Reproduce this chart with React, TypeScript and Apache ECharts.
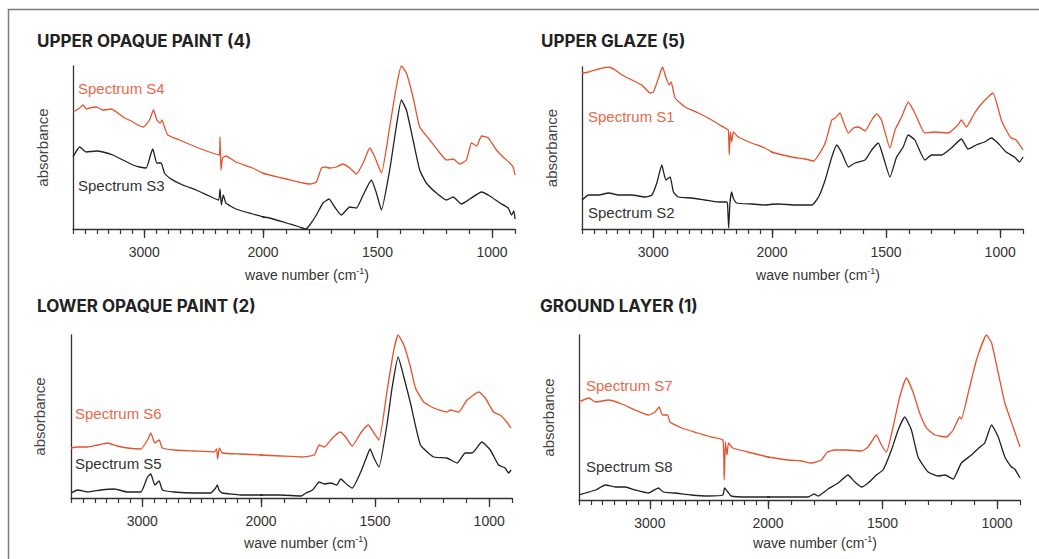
import React, { useEffect, useRef } from "react";
import * as echarts from "echarts";

// ---- Data (wave number in cm-1, absorbance in arbitrary display units) ----
const S4_WN = [3600,3544,3516,3488,3460,3404,3348,3278,3222,3166,3110,3054,3006,2956,2922,2894,2866,2850,2830,2802,2704,2564,2452,2368,2362,2354,2340,2312,2228,2088,1971,1898,1825,1796,1767,1745,1731,1709,1680,1651,1621,1592,1563,1534,1512,1483,1447,1418,1396,1374,1345,1316,1272,1228,1199,1170,1141,1112,1090,1068,1046,1017,981,952,923,908,900];
const S4_ABS = [117,121,124,120,121,122,119,120,116,111,108,104,102,109,119,109,106,109,102,94,89,82,77,74,92,59,71,73,67,61,54,50,46,45,47,61,62,61,62,65,61,55,66,81,72,56,102,142,163,156,132,102,89,76,69,70,65,69,86,83,93,91,79,72,66,62,54];

const S3_WN = [3600,3544,3488,3404,3348,3264,3180,3096,3040,2984,2942,2928,2894,2858,2830,2788,2676,2564,2452,2374,2362,2351,2334,2312,2228,2088,1971,1898,1840,1814,1796,1767,1738,1712,1687,1658,1621,1592,1563,1527,1505,1483,1447,1425,1396,1374,1345,1316,1287,1243,1199,1170,1134,1097,1046,1010,966,930,915,905,900];
const S3_ABS = [72,82,77,78,77,74,69,64,62,61,76,80,66,66,56,51,44,39,33,29,40,24,34,26,20,15,11,6,2,0,4,14,26,30,22,14,22,21,34,49,36,19,59,92,129,119,89,59,46,36,29,32,25,30,37,33,26,21,14,18,10];

const S1_WN = [3600,3544,3460,3376,3320,3264,3180,3096,3026,2998,2956,2922,2894,2866,2850,2816,2732,2620,2508,2396,2368,2360,2351,2340,2326,2284,2172,2060,1971,1913,1854,1818,1796,1767,1738,1723,1702,1687,1665,1643,1621,1592,1563,1541,1520,1483,1461,1432,1403,1374,1330,1287,1228,1185,1170,1148,1112,1075,1032,995,974,952,930,900];
const S1_ABS = [156,157,160,162,159,154,149,144,136,137,151,162,152,144,147,131,122,116,109,101,99,74,97,87,97,92,86,81,75,72,70,68,74,86,109,111,116,107,96,101,102,98,109,115,109,81,99,112,127,116,96,97,96,104,109,102,116,127,136,109,99,91,89,79];

const S2_WN = [3600,3544,3460,3376,3292,3180,3068,3012,2970,2928,2894,2858,2830,2788,2676,2564,2452,2382,2374,2365,2354,2340,2326,2298,2172,2060,1971,1898,1825,1796,1767,1738,1716,1694,1665,1636,1592,1563,1534,1512,1483,1454,1425,1403,1374,1330,1301,1257,1214,1170,1141,1105,1068,1039,1010,974,937,915,900];
const S2_ABS = [29,34,34,36,34,34,32,34,46,64,49,52,37,32,31,29,27,27,24,1,26,37,31,26,25,24,25,24,24,32,49,72,84,76,62,66,69,79,86,72,52,72,82,94,89,69,74,74,81,90,80,84,87,91,86,77,72,67,72];

const S6_WN = [3600,3544,3460,3376,3292,3208,3124,3012,2956,2928,2894,2858,2830,2732,2564,2396,2374,2365,2351,2326,2172,2000,1913,1825,1767,1745,1723,1687,1653,1629,1600,1563,1530,1505,1483,1447,1418,1399,1374,1345,1323,1287,1243,1185,1170,1134,1097,1046,1017,981,952,923,905];
const S6_ABS = [50,51,51,53,55,52,50,49,58,65,55,58,50,48,47,46,49,39,50,45,44,43,42,41,43,53,51,60,66,61,52,65,73,65,58,108,148,163,153,131,110,96,90,86,88,86,98,106,100,86,83,76,70];

const S5_WN = [3600,3544,3460,3348,3236,3124,3012,2956,2928,2894,2858,2830,2732,2564,2424,2382,2368,2354,2326,2172,2000,1913,1825,1803,1774,1745,1723,1694,1668,1651,1621,1600,1563,1537,1522,1505,1483,1447,1425,1399,1374,1345,1301,1243,1185,1141,1105,1075,1032,995,959,930,915,904];
const S5_ABS = [5,8,6,8,9,6,6,21,24,13,17,8,6,5,5,10,13,8,5,3,3,3,2,5,8,16,14,15,13,19,13,10,26,41,49,40,31,75,111,141,121,95,53,41,40,35,45,45,56,48,33,30,25,28];

const S7_WN = [3600,3516,3460,3348,3236,3124,3012,2956,2922,2894,2850,2830,2732,2592,2480,2382,2371,2360,2348,2334,2298,2172,2000,1913,1854,1811,1767,1741,1709,1651,1592,1563,1527,1505,1483,1454,1425,1396,1367,1338,1308,1272,1221,1192,1163,1156,1126,1090,1046,1024,995,966,930,900];
const S7_ABS = [98,102,98,100,96,90,85,88,93,85,85,78,72,67,63,60,20,58,45,57,52,48,43,40,39,37,40,48,50,50,49,53,65,55,48,73,103,122,108,87,72,65,63,70,83,81,107,140,165,157,127,97,73,53];

const S8_WN = [3600,3544,3460,3376,3292,3208,3124,3012,2928,2886,2788,2648,2508,2382,2368,2340,2312,2172,2000,1913,1825,1799,1782,1738,1694,1651,1621,1592,1563,1527,1498,1461,1432,1403,1374,1345,1301,1257,1228,1192,1156,1112,1075,1054,1024,995,966,937,923,900];
const S8_ABS = [5,7,10,15,13,13,10,7,12,8,7,5,4,5,12,8,4,3,3,3,3,6,4,11,17,25,18,13,17,25,30,50,70,83,70,43,28,24,25,21,37,45,53,57,75,63,43,33,31,22];

const TITLES = ["UPPER OPAQUE PAINT (4)", "UPPER GLAZE (5)", "LOWER OPAQUE PAINT (2)", "GROUND LAYER (1)"];
const SPECTRUM_NAMES = ["Spectrum S4", "Spectrum S3", "Spectrum S1", "Spectrum S2", "Spectrum S6", "Spectrum S5", "Spectrum S7", "Spectrum S8"];
const HIGH_RANGE = [2000, 3600];
const LOW_RANGE = [900, 2000];
const MAJOR_HIGH = [3000];
const MAJOR_LOW = [2000, 1500, 1000];
const Y_NAME = "absorbance";

// ---- Layout / style ----
const ORANGE = "#E4532D";
const ORANGE_TEXT = "#E8694A";
const BLACK = "#222222";
const AXIS = "#333333";
const LABEL_FONT = "'Liberation Sans', Arial, sans-serif";
const TITLE_FONT = "Inter, 'Open Sans', sans-serif";

const PANELS = [
  { left: 73, top: 66, hw: 190, lw: 252, h: 163, tx: 37, ty: 41, ax: 42, nx: 307, ny: 275,
    red: { wn: S4_WN, ab: S4_ABS, lx: 78, ly: 88 }, black: { wn: S3_WN, ab: S3_ABS, lx: 78, ly: 185 } },
  { left: 582, top: 67, hw: 190, lw: 251, h: 162, tx: 541, ty: 41, ax: 551, nx: 818, ny: 275,
    red: { wn: S1_WN, ab: S1_ABS, lx: 588, ly: 116 }, black: { wn: S2_WN, ab: S2_ABS, lx: 588, ly: 212 } },
  { left: 71, top: 335, hw: 190, lw: 251, h: 163, tx: 37, ty: 306, ax: 39, nx: 306, ny: 543,
    red: { wn: S6_WN, ab: S6_ABS, lx: 75, ly: 413 }, black: { wn: S5_WN, ab: S5_ABS, lx: 75, ly: 463 } },
  { left: 579, top: 335, hw: 189, lw: 252, h: 165, tx: 540, ty: 306, ax: 548, nx: 815, ny: 543,
    red: { wn: S7_WN, ab: S7_ABS, lx: 586, ly: 385 }, black: { wn: S8_WN, ab: S8_ABS, lx: 586, ly: 466 } },
];

function buildOption() {
  const grid: any[] = [];
  const xAxis: any[] = [];
  const yAxis: any[] = [];
  const series: any[] = [];
  const graphic: any[] = [];

  graphic.push({
    type: "rect", silent: true,
    shape: { x: 8.5, y: 9.5, width: 1200, height: 1000 },
    style: { fill: "none", stroke: "#7c7c7c", lineWidth: 1.5 },
  });

  PANELS.forEach((p, i) => {
    [0, 1].forEach((k) => {
      const g = 2 * i + k;
      const range = k === 0 ? HIGH_RANGE : LOW_RANGE;
      const majors = k === 0 ? MAJOR_HIGH : MAJOR_LOW;
      grid.push({ left: k === 0 ? p.left : p.left + p.hw, top: p.top, width: k === 0 ? p.hw : p.lw, height: p.h });
      xAxis.push({
        gridIndex: g, type: "value", position: "bottom", min: range[0], max: range[1], inverse: true, interval: 100,
        axisLine: { show: true, onZero: false, lineStyle: { color: AXIS, width: 1.3 } },
        axisTick: { show: true, length: 5, lineStyle: { color: AXIS, width: 1.2 } },
        axisLabel: { show: false }, splitLine: { show: false },
      });
      xAxis.push({
        gridIndex: g, type: "value", position: "bottom", min: range[0], max: range[1], inverse: true,
        axisLine: { show: false, onZero: false },
        axisTick: { show: true, length: 9, customValues: majors, lineStyle: { color: AXIS, width: 1.3 } },
        axisLabel: { show: true, customValues: majors, margin: 16, fontSize: 14, color: "#333", fontFamily: LABEL_FONT,
          formatter: (v: number) => String(v) },
        splitLine: { show: false },
      });
      yAxis.push({
        gridIndex: g, type: "value", min: 0, max: p.h, show: k === 0,
        axisLine: { show: k === 0, onZero: false, lineStyle: { color: AXIS, width: 1.3 } },
        axisTick: { show: false }, axisLabel: { show: false }, splitLine: { show: false },
      });
      [p.black, p.red].forEach((s, j) => {
        series.push({
          type: "line", xAxisIndex: 2 * g, yAxisIndex: g, silent: true,
          data: s.wn.map((w: number, n: number) => [w, s.ab[n]]),
          showSymbol: false, symbol: "none", smooth: 0.15, clip: true,
          lineStyle: { color: j === 1 ? ORANGE : BLACK, width: 1.3 },
        });
      });
    });

    graphic.push({
      type: "text", x: p.tx, y: p.ty, silent: true,
      style: { text: TITLES[i], fill: "#222", fontSize: 17, fontWeight: 700, fontFamily: TITLE_FONT,
        font: "700 17px Inter, 'Open Sans', sans-serif",
        textAlign: "left", textVerticalAlign: "middle", align: "left", verticalAlign: "middle" },
    });
    graphic.push({
      type: "text", x: p.ax, y: p.top + p.h / 2, rotation: Math.PI / 2, silent: true,
      style: { text: Y_NAME, fill: "#444", fontSize: 15, fontFamily: LABEL_FONT,
        font: "15px 'Liberation Sans', Arial, sans-serif",
        textAlign: "center", textVerticalAlign: "middle", align: "center", verticalAlign: "middle" },
    });
    graphic.push({
      type: "text", x: p.nx, y: p.ny, silent: true,
      style: {
        text: "{a|wave number (cm}{b|-1}{a|)}",
        fill: "#333", fontSize: 14, fontFamily: LABEL_FONT,
        font: "14px 'Liberation Sans', Arial, sans-serif",
        textAlign: "center", textVerticalAlign: "middle", align: "center", verticalAlign: "middle",
        rich: {
          a: { fontSize: 14, fill: "#333", fontFamily: LABEL_FONT, font: "14px 'Liberation Sans', Arial, sans-serif", lineHeight: 18 },
          b: { fontSize: 9, fill: "#333", fontFamily: LABEL_FONT, font: "9px 'Liberation Sans', Arial, sans-serif", verticalAlign: "top", lineHeight: 10 },
        },
      },
    });
    [p.red, p.black].forEach((s, j) => {
      graphic.push({
        type: "text", x: s.lx, y: s.ly, silent: true,
        style: { text: SPECTRUM_NAMES[2 * i + j], fill: j === 0 ? ORANGE_TEXT : "#333", fontSize: 15, fontFamily: LABEL_FONT,
          font: "15px 'Liberation Sans', Arial, sans-serif",
          textAlign: "left", textVerticalAlign: "middle", align: "left", verticalAlign: "middle" },
      });
    });
  });

  return { animation: false, backgroundColor: "#ffffff", grid, xAxis, yAxis, series, graphic };
}

export default function App() {
  const ref = useRef<HTMLDivElement>(null);
  useEffect(() => {
    if (!ref.current) return;
    const chart = echarts.init(ref.current, null, { renderer: "svg" });
    chart.setOption(buildOption() as any);
    return () => chart.dispose();
  }, []);
  return (
    <div
      ref={ref}
      style={{ position: "fixed", left: 0, top: 0, width: 1039, height: 559, background: "#fff" }}
    />
  );
}
